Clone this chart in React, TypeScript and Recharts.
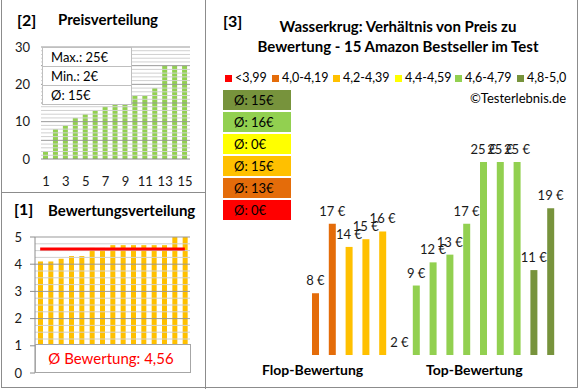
import React from "react";
import {
  BarChart, Bar, ComposedChart, Line, XAxis, YAxis, ReferenceLine, Cell, LabelList,
} from "recharts";

// [2] Preisverteilung
const priceIdx = ["1", "2", "3", "4", "5", "6", "7", "8", "9", "10", "11", "12", "13", "14", "15"];
const sortedPrices = [2, 8, 9, 11, 12, 13, 14, 15, 15, 17, 17, 19, 25, 25, 25];
const priceTicks = [0, 5, 10, 15, 20, 25, 30];
const priceMinor = [1, 2, 3, 4, 6, 7, 8, 9, 11, 12, 13, 14, 16, 17, 18, 19, 21, 22, 23, 24, 26, 27, 28, 29];
const priceStats = ["Max.: 25€", "Min.: 2€", "Ø: 15€"];

// [1] Bewertungsverteilung
const sortedRatings = [4.1, 4.1, 4.2, 4.3, 4.3, 4.6, 4.6, 4.7, 4.7, 4.7, 4.7, 4.7, 4.7, 5.0, 5.0];
const avgRating = 4.56;
const ratingTicks = [0, 1, 2, 3, 4, 5];
const ratingMinor = [1.25, 1.5, 1.75, 2.25, 2.5, 2.75, 3.25, 3.5, 3.75, 4.25, 4.5, 4.75];

// [3] Preis zu Bewertung
const groupNames = ["<3,99", "4,0-4,19", "4,2-4,39", "4,4-4,59", "4,6-4,79", "4,8-5,0"];
const groupColors = ["#FF0000", "#E46C0A", "#FFC000", "#FFFF00", "#92D050", "#77933C"];
const groupAvgs = ["Ø: 15€", "Ø: 16€", "Ø: 0€", "Ø: 15€", "Ø: 13€", "Ø: 0€"];
const groupAvgColors = ["#77933C", "#92D050", "#FFFF00", "#FFC000", "#E46C0A", "#FF0000"];
const productPrices = [8, 17, 14, 15, 16, 2, 9, 12, 13, 17, 25, 25, 25, 11, 19];
const productBars = [8, 17, 14, 15, 16, 0, 9, 12, 13, 17, 25, 25, 25, 11, 19];
const productGroup = [1, 1, 2, 2, 2, 4, 4, 4, 4, 4, 4, 4, 4, 5, 5];

const FONT = "Lato, 'Open Sans', sans-serif";
const BORDER = "#8c8c8c";
const legendX = [225, 272, 333, 395, 455, 517];

const priceData = priceIdx.map((n, i) => ({ n, price: sortedPrices[i] }));
const ratingData = sortedRatings.map((r, i) => ({ n: String(i + 1), rating: r, avg: avgRating }));
const productData = productBars.map((v, i) => ({
  n: String(i + 1), value: v, label: `${productPrices[i]} €`, group: productGroup[i],
}));

const abs = (left: number, top: number, extra: React.CSSProperties = {}): React.CSSProperties => ({
  position: "absolute", left, top, ...extra,
});

// labels sit on an invisible line through the bar tops, so the 0-height bar still gets one
const PriceLabel = (props: any) => {
  const { x, y, index } = props;
  return (
    <text x={x} y={y - 8} textAnchor="middle" fontSize={13} fill="#1a1a1a" fontFamily={FONT}>
      {productData[index].label}
    </text>
  );
};

export default function App() {
  return (
    <div style={{ position: "absolute", left: 0, top: 0, width: 580, height: 390, background: "#fff", fontFamily: FONT, color: "#000", overflow: "hidden" }}>
      {/* panel borders */}
      <div style={abs(1, 0, { width: 577, height: 388, borderLeft: `1px solid ${BORDER}`, borderRight: `1px solid ${BORDER}`, borderBottom: `1px solid ${BORDER}`, boxSizing: "border-box" })} />
      <div style={abs(205, 0, { width: 1, height: 389, background: BORDER })} />
      <div style={abs(1, 192, { width: 205, height: 1, background: BORDER })} />

      {/* [2] Preisverteilung */}
      <div style={abs(17, 10, { fontSize: 16, fontWeight: 700 })}>[2]</div>
      <div style={abs(58, 10, { fontSize: 15, fontWeight: 700 })}>Preisverteilung</div>
      <div style={abs(0, 0)}>
        <BarChart width={200} height={190} data={priceData} margin={{ top: 47, right: 10, bottom: 11, left: 11 }}>
          <XAxis dataKey="n" interval={1} tickLine={false} axisLine={{ stroke: "#8c8c8c" }} tickMargin={12} height={20}
            tick={{ fontSize: 13, fill: "#1a1a1a", fontFamily: FONT }} />
          <YAxis domain={[0, 30]} ticks={priceTicks} width={30} tickLine={false} tickSize={0} tickMargin={11}
            axisLine={false} tick={{ fontSize: 13, fill: "#1a1a1a", fontFamily: FONT }} />
          {priceMinor.map((v) => (
            <ReferenceLine key={`m${v}`} y={v} stroke="#d0d0d0" />
          ))}
          {priceTicks.slice(1).map((v) => (
            <ReferenceLine key={`M${v}`} y={v} stroke="#999999" />
          ))}
          <Bar dataKey="price" fill="#92D050" barSize={5} isAnimationActive={false} />
        </BarChart>
      </div>
      <div style={abs(42, 47, { width: 88, background: "#fff", borderLeft: "1px solid #bfbfbf", borderRight: "1px solid #bfbfbf" })}>
        {priceStats.map((s, i) => (
          <div key={s} style={{ height: 18, lineHeight: "18px", fontSize: 13, paddingLeft: 8, borderTop: "1px solid #bfbfbf", borderBottom: i === priceStats.length - 1 ? "1px solid #bfbfbf" : undefined }}>{s}</div>
        ))}
      </div>

      {/* [1] Bewertungsverteilung */}
      <div style={abs(14, 199, { fontSize: 16, fontWeight: 700 })}>[1]</div>
      <div style={abs(48, 201, { fontSize: 15, fontWeight: 700 })}>Bewertungsverteilung</div>
      <div style={abs(0, 192)}>
        <ComposedChart width={204} height={196} data={ratingData} margin={{ top: 45, right: 14, bottom: 15, left: 10 }}>
          <XAxis dataKey="n" hide />
          <YAxis domain={[0, 5]} ticks={ratingTicks} width={25} tickSize={5} tickMargin={8}
            axisLine={{ stroke: "#8c8c8c" }} tickLine={{ stroke: "#8c8c8c" }}
            tick={{ fontSize: 13, fill: "#1a1a1a", fontFamily: FONT }} />
          {ratingMinor.map((v) => (
            <ReferenceLine key={`m${v}`} y={v} stroke="#d0d0d0" />
          ))}
          {ratingTicks.slice(1).map((v) => (
            <ReferenceLine key={`M${v}`} y={v} stroke="#999999" />
          ))}
          <Bar dataKey="rating" fill="#FFC000" barSize={5} isAnimationActive={false} />
          <Line dataKey="avg" stroke="#FF0000" strokeWidth={3} dot={false} isAnimationActive={false} />
        </ComposedChart>
      </div>
      <div style={abs(35, 344, { width: 156, height: 29, boxSizing: "border-box", background: "#fff", border: "1px solid #a6a6a6", color: "#FF0000", fontSize: 15, lineHeight: "27px", paddingRight: 4, textAlign: "center" })}>
        Ø Bewertung: 4,56
      </div>

      {/* [3] Verhältnis Preis zu Bewertung */}
      <div style={abs(223, 11, { fontSize: 16, fontWeight: 700 })}>[3]</div>
      <div style={abs(230, 16, { width: 336, textAlign: "center", fontSize: 15, fontWeight: 700, lineHeight: "20px" })}>
        Wasserkrug: Verhältnis von Preis zu<br />Bewertung - 15 Amazon Bestseller im Test
      </div>
      {groupNames.map((g, i) => (
        <div key={g} style={abs(legendX[i], 70, { display: "flex", alignItems: "center", fontSize: 12.5, lineHeight: "16px", whiteSpace: "nowrap" })}>
          <span style={{ display: "inline-block", width: 7, height: 7, background: groupColors[i], marginRight: 3 }} />
          {g}
        </div>
      ))}
      <div style={abs(470, 90, { fontSize: 13 })}>©Testerlebnis.de</div>
      {groupAvgs.map((t, i) => (
        <div key={i} style={abs(223, 90 + i * 22, { width: 68, height: 20, background: groupAvgColors[i], fontSize: 13, lineHeight: "20px", paddingLeft: 11, boxSizing: "border-box" })}>{t}</div>
      ))}
      <div style={abs(300, 140)}>
        <ComposedChart width={270} height={230} data={productData} margin={{ top: 22, right: 11, bottom: 15, left: 7 }}>
          <XAxis dataKey="n" hide />
          <YAxis domain={[0, 25]} hide />
          <Bar dataKey="value" barSize={7} isAnimationActive={false}>
            {productData.map((d, i) => (
              <Cell key={i} fill={groupColors[d.group]} />
            ))}
          </Bar>
          <Line dataKey="value" stroke="none" strokeWidth={0} dot={false} activeDot={false} isAnimationActive={false}>
            <LabelList dataKey="label" content={PriceLabel} />
          </Line>
        </ComposedChart>
      </div>
      <div style={abs(262, 361, { fontSize: 14, fontWeight: 700 })}>Flop-Bewertung</div>
      <div style={abs(426, 361, { fontSize: 14, fontWeight: 700 })}>Top-Bewertung</div>
    </div>
  );
}
